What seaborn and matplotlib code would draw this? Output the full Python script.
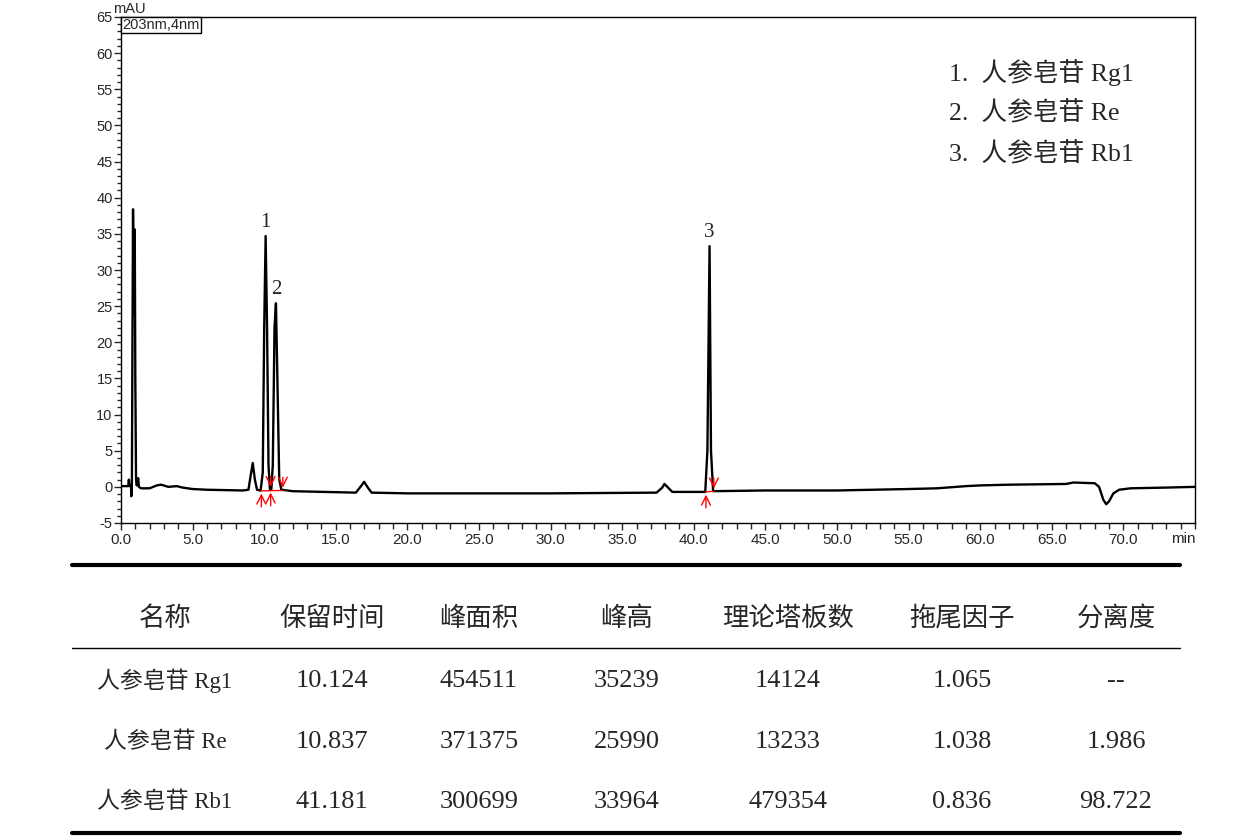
import numpy as np
import pandas as pd
import matplotlib
matplotlib.use('Agg')
import matplotlib.pyplot as plt
from matplotlib.lines import Line2D
from matplotlib.ticker import MultipleLocator
import seaborn as sns

# chromatogram trace (min, mAU)
time = [0.0, 0.5, 0.55, 0.6, 0.7, 0.72, 0.76, 0.8, 0.84, 0.88, 0.92, 0.96, 1.0, 1.05,
        1.1, 1.2, 1.25, 1.4, 2.0, 2.5, 2.8, 3.3, 3.9, 4.3, 5.0, 6.0, 8.5, 8.9, 9.05,
        9.2, 9.35, 9.5, 9.75, 9.9, 10.0, 10.1, 10.2, 10.3, 10.4, 10.5, 10.6, 10.72,
        10.82, 10.92, 11.05, 11.2, 12.0, 16.4, 16.8, 16.98, 17.2, 17.5, 20.0, 30.0,
        37.4, 37.8, 37.95, 38.15, 38.5, 40.8, 40.95, 41.1, 41.2, 41.35, 45.0, 50.0,
        55.0, 57.0, 59.0, 60.0, 62.0, 66.0, 66.5, 68.0, 68.3, 68.6, 68.8, 69.0, 69.3,
        69.7, 70.5, 73.0, 75.0]
signal = [0.1, 0.1, 1.0, 0.1, 0.1, -1.3, 0.5, 20.0, 38.4, 30.0, 24.0, 35.6, 15.0, 1.0,
          0.2, 1.2, 0.0, -0.2, -0.2, 0.2, 0.3, 0.0, 0.1, -0.1, -0.3, -0.4, -0.5, -0.4, 1.5,
          3.3, 1.0, -0.4, -0.5, 2.0, 22.0, 34.7, 22.0, 3.0, -0.3, -0.3, 3.0, 22.0,
          25.4, 15.0, 1.0, -0.4, -0.6, -0.8, 0.2, 0.7, 0.0, -0.8, -0.9, -0.9,
          -0.8, -0.1, 0.4, 0.0, -0.7, -0.7, 5.0, 33.3, 5.0, -0.6, -0.5, -0.5,
          -0.3, -0.2, 0.1, 0.2, 0.3, 0.4, 0.6, 0.5, 0.0, -1.8, -2.4, -2.0, -0.9,
          -0.4, -0.2, -0.1, 0.0]

# numbered peaks
peak_no = ['1', '2', '3']
peak_t = [10.1, 10.82, 41.1]
peak_h = [34.7, 25.4, 33.3]

# integration marks (time, baseline level)
start_marks = [(9.8, -0.55), (10.45, -0.4), (40.85, -0.7)]
end_marks = [(10.45, -0.4), (11.3, -0.5), (41.4, -0.6)]
baselines = [([9.8, 11.3], [-0.55, -0.5]), ([40.85, 41.4], [-0.7, -0.6])]

legend_lines = ['1.  人参皂苷 Rg1', '2.  人参皂苷 Re', '3.  人参皂苷 Rb1']

# table
headers = ['名称', '保留时间', '峰面积', '峰高', '理论塔板数', '拖尾因子', '分离度']
names = ['人参皂苷 Rg1', '人参皂苷 Re', '人参皂苷 Rb1']
ret_time = ['10.124', '10.837', '41.181']
area = ['454511', '371375', '300699']
height = ['35239', '25990', '33964']
plates = ['14124', '13233', '479354']
tailing = ['1.065', '1.038', '0.836']
resolution = ['--', '1.986', '98.722']

sns.set_style('ticks')
serif = ['Liberation Serif', 'Noto Sans CJK SC']
plt.rcParams['font.family'] = ['Liberation Sans', 'DejaVu Sans']
plt.rcParams['axes.unicode_minus'] = False

W, H = 1260, 840
fig = plt.figure(figsize=(W / 100, H / 100), dpi=100)
ax = fig.add_axes([121 / W, 1 - 523 / H, (1195 - 121) / W, (523 - 17) / H])

df = pd.DataFrame({'t': time, 'mAU': signal})
sns.lineplot(data=df, x='t', y='mAU', ax=ax, color='black', lw=1.7,
             estimator=None, sort=False)

for (xs, ys) in baselines:
    ax.plot(xs, ys, color='red', lw=1)
for t, b in start_marks:
    ax.annotate('', xy=(t, b), xytext=(t, b - 2.6),
                arrowprops=dict(arrowstyle='->', color='red', lw=1, mutation_scale=16))
for t, b in end_marks:
    ax.annotate('', xy=(t, b), xytext=(t, b + 2.2),
                arrowprops=dict(arrowstyle='->', color='red', lw=1, mutation_scale=16))

for lab, t, h in zip(peak_no, peak_t, peak_h):
    ax.annotate(lab, xy=(t, h), xytext=(0, 3), textcoords='offset points',
                ha='center', va='bottom', fontsize=15, family=serif)

ax.set_xlim(0, 75)
ax.set_ylim(-5, 65)
ax.xaxis.set_minor_locator(MultipleLocator(1))
ax.yaxis.set_major_locator(MultipleLocator(5))
ax.yaxis.set_minor_locator(MultipleLocator(1))
ax.set_xticks(np.arange(0, 75, 5))
ax.set_xticklabels(['%.1f' % v for v in np.arange(0, 75, 5)])
ax.tick_params(axis='x', which='major', length=5, width=1, labelsize=11, pad=2)
ax.tick_params(axis='x', which='minor', length=4, width=1)
ax.tick_params(axis='y', which='major', length=5, width=1, labelsize=10.5, pad=1)
ax.tick_params(axis='y', which='minor', length=3, width=1)
ax.set_xlabel('')
ax.set_ylabel('')
for sp in ax.spines.values():
    sp.set_visible(True)
    sp.set_color('black')
    sp.set_linewidth(1)

fig.text(1183 / W, 1 - 539 / H, 'min', ha='center', va='center', fontsize=11)
fig.text(129 / W, 1 - 9 / H, 'mAU', ha='center', va='center', fontsize=10.5)
ax.text(0.001, 0.998, '203nm,4nm', transform=ax.transAxes, ha='left', va='top',
        fontsize=10.5, bbox=dict(boxstyle='square,pad=0.1', fc='white', ec='black', lw=1))

for i, line in enumerate(legend_lines):
    fig.text(949 / W, 1 - (72 + 40.5 * i) / H, line, ha='left', va='center',
             fontsize=18.5, family=serif)

# table under the chart
x0, x1 = 72 / W, 1180 / W
fig.add_artist(Line2D([x0, x1], [1 - 565 / H] * 2, color='black', lw=3))
fig.add_artist(Line2D([x0, x1], [1 - 648 / H] * 2, color='black', lw=1))
fig.add_artist(Line2D([x0, x1], [1 - 833 / H] * 2, color='black', lw=3))

col_x = [165, 332, 479, 627, 788, 962, 1116]
for cx, h in zip(col_x, headers):
    fig.text(cx / W, 1 - 618 / H, h, ha='center', va='center', fontsize=19,
             family=['Noto Sans CJK SC'], weight='medium')

row_y = [681, 742, 802]
cols = [ret_time, area, height, plates, tailing, resolution]
for r, ry in enumerate(row_y):
    fig.text(165 / W, 1 - ry / H, names[r], ha='center', va='center', fontsize=16.5,
             family=serif)
    for cx, col in zip(col_x[1:], cols):
        fig.text(cx / W, 1 - ry / H, col[r], ha='center', va='center', fontsize=19,
                 family=serif)

fig.savefig('out.png', dpi=100)
